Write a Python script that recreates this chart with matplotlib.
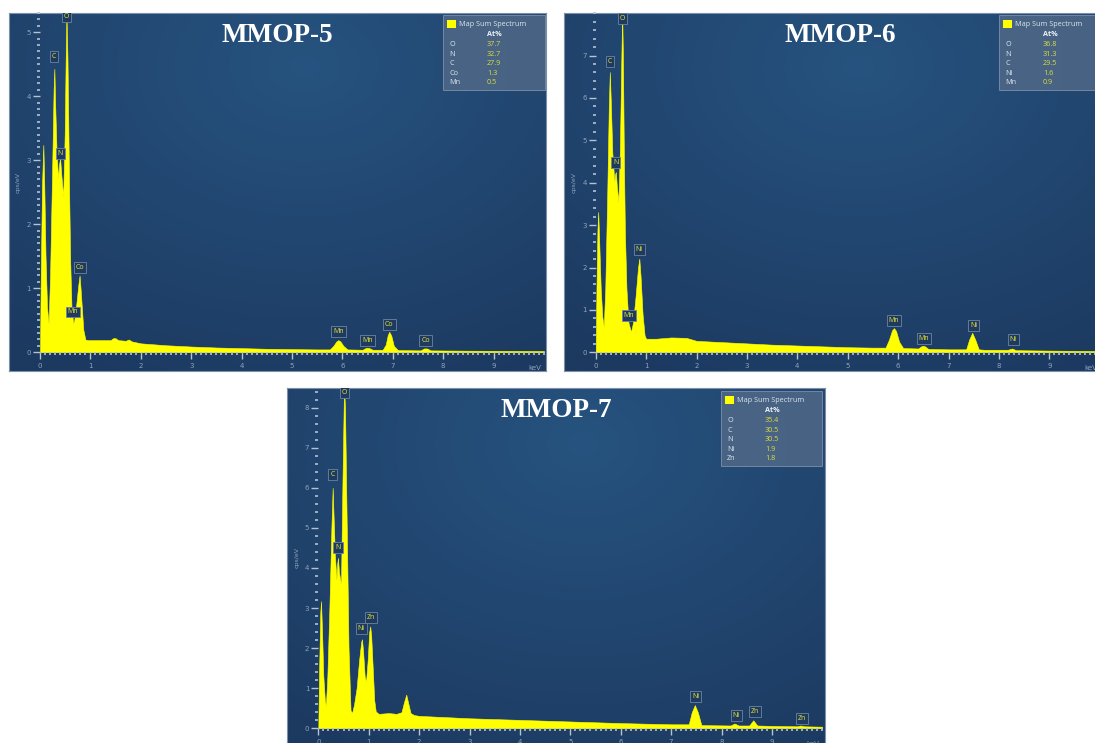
import numpy as np
import matplotlib
matplotlib.use("Agg")
import matplotlib.pyplot as plt
from matplotlib.ticker import MultipleLocator, FixedLocator
from matplotlib.patches import Rectangle

W, H = 1095, 743

titles = ["MMOP-5", "MMOP-6", "MMOP-7"]
x_ticks = [0, 1, 2, 3, 4, 5, 6, 7, 8, 9]

# ---------------- spectrum traces (keV, cps/eV) ----------------
p5_kev = [0.0, 0.015, 0.04, 0.066, 0.085, 0.11, 0.14, 0.17, 0.20, 0.24, 0.27, 0.285, 0.30, 0.33,
          0.36, 0.38, 0.40, 0.42, 0.46, 0.49, 0.51, 0.525, 0.545, 0.56, 0.58, 0.60, 0.625, 0.66,
          0.68, 0.72, 0.76, 0.785, 0.80, 0.83, 0.86, 0.90, 0.95, 1.2, 1.4, 1.45, 1.5, 1.55, 1.7,
          1.76, 1.82, 2.0, 2.5, 3.0, 3.5, 4.0, 4.5, 5.0, 5.5, 5.75, 5.82, 5.88, 5.92, 5.96, 6.02,
          6.1, 6.4, 6.47, 6.52, 6.6, 6.8, 6.86, 6.9, 6.93, 6.97, 7.02, 7.1, 7.55, 7.62, 7.68, 7.75,
          8.5, 10.0]
p5_cps = [0.0, 1.2, 2.6, 3.24, 2.6, 1.5, 0.7, 0.45, 1.2, 2.8, 4.1, 4.43, 3.9, 3.1,
          2.71, 2.95, 3.02, 2.8, 2.43, 3.4, 4.6, 5.3, 4.6, 3.7, 2.4, 1.4, 0.7, 0.45,
          0.5, 0.75, 1.05, 1.2, 1.05, 0.7, 0.35, 0.2, 0.19, 0.19, 0.19, 0.22, 0.22, 0.19, 0.18,
          0.2, 0.17, 0.14, 0.11, 0.09, 0.075, 0.065, 0.055, 0.05, 0.045, 0.045, 0.1, 0.17, 0.19, 0.17, 0.1,
          0.045, 0.04, 0.07, 0.07, 0.04, 0.04, 0.12, 0.27, 0.32, 0.26, 0.1, 0.035, 0.03, 0.06, 0.06, 0.03,
          0.025, 0.02]

p6_kev = [0.0, 0.015, 0.035, 0.05, 0.07, 0.10, 0.13, 0.16, 0.19, 0.23, 0.26, 0.28, 0.30, 0.33,
          0.37, 0.385, 0.40, 0.42, 0.45, 0.48, 0.51, 0.525, 0.54, 0.56, 0.58, 0.61, 0.65, 0.70,
          0.74, 0.79, 0.84, 0.865, 0.89, 0.93, 0.97, 1.0, 1.2, 1.5, 1.8, 2.0, 2.5, 3.0, 3.5, 4.0,
          4.5, 5.0, 5.5, 5.75, 5.82, 5.88, 5.92, 5.96, 6.02, 6.1, 6.4, 6.47, 6.52, 6.6, 7.0, 7.35,
          7.41, 7.47, 7.53, 7.6, 7.7, 8.18, 8.26, 8.34, 9.0, 10.0]
p6_cps = [0.0, 1.5, 2.9, 3.31, 2.6, 1.5, 0.85, 0.6, 1.5, 3.8, 5.8, 6.61, 5.9, 4.7,
          4.02, 4.2, 4.25, 3.9, 3.54, 4.8, 7.0, 8.0, 7.0, 4.5, 2.8, 1.5, 0.7, 0.48,
          0.7, 1.3, 2.0, 2.21, 1.8, 0.9, 0.4, 0.32, 0.32, 0.35, 0.34, 0.27, 0.24, 0.21, 0.18, 0.16,
          0.14, 0.12, 0.11, 0.11, 0.3, 0.52, 0.57, 0.5, 0.25, 0.1, 0.09, 0.15, 0.15, 0.08, 0.07, 0.07,
          0.3, 0.46, 0.3, 0.07, 0.06, 0.06, 0.09, 0.05, 0.04, 0.03]

p7_kev = [0.0, 0.015, 0.04, 0.054, 0.075, 0.10, 0.13, 0.15, 0.18, 0.22, 0.26, 0.285, 0.30, 0.33,
          0.36, 0.375, 0.39, 0.41, 0.45, 0.48, 0.51, 0.53, 0.56, 0.60, 0.64, 0.67, 0.71, 0.76,
          0.81, 0.85, 0.867, 0.89, 0.92, 0.946, 0.98, 1.01, 1.03, 1.05, 1.08, 1.11, 1.14, 1.2, 1.4,
          1.55, 1.65, 1.70, 1.745, 1.78, 1.83, 1.9, 2.0, 3.0, 4.0, 5.0, 6.0, 7.0, 7.35, 7.41, 7.47,
          7.53, 7.6, 8.18, 8.26, 8.34, 8.55, 8.63, 8.71, 9.0, 9.5, 9.57, 9.64, 10.0]
p7_cps = [0.0, 1.4, 2.9, 3.17, 2.4, 1.3, 0.7, 0.55, 1.3, 3.0, 5.0, 6.0, 5.4, 4.3,
          3.7, 4.1, 4.25, 3.9, 3.58, 6.2, 8.5, 8.0, 5.4, 2.0, 0.45, 0.38, 0.6, 1.0,
          1.7, 2.15, 2.22, 1.9, 1.3, 1.15, 1.7, 2.4, 2.54, 2.3, 1.5, 0.7, 0.42, 0.36, 0.38,
          0.36, 0.4, 0.65, 0.84, 0.65, 0.38, 0.33, 0.31, 0.25, 0.21, 0.17, 0.13, 0.1, 0.1, 0.4, 0.58,
          0.4, 0.08, 0.07, 0.12, 0.07, 0.07, 0.2, 0.07, 0.06, 0.05, 0.07, 0.05, 0.04]

# ---------------- peak labels ----------------
p5_lab = ["O", "C", "N", "Co", "Mn", "Mn", "Mn", "Co", "Co"]
p5_lab_x = [0.53, 0.28, 0.40, 0.79, 0.65, 5.92, 6.50, 6.93, 7.65]
p5_lab_y = [5.24, 4.62, 3.1, 1.33, 0.63, 0.32, 0.19, 0.43, 0.19]

p6_lab = ["O", "C", "N", "Ni", "Mn", "Mn", "Mn", "Ni", "Ni"]
p6_lab_x = [0.53, 0.28, 0.40, 0.865, 0.66, 5.92, 6.51, 7.50, 8.28]
p6_lab_y = [7.88, 6.86, 4.48, 2.43, 0.87, 0.76, 0.33, 0.64, 0.31]

p7_lab = ["O", "C", "N", "Ni", "Zn", "Ni", "Ni", "Zn", "Zn"]
p7_lab_x = [0.52, 0.28, 0.39, 0.85, 1.04, 7.49, 8.29, 8.66, 9.59]
p7_lab_y = [8.38, 6.32, 4.5, 2.48, 2.77, 0.79, 0.33, 0.41, 0.25]

# ---------------- legend tables (At%) ----------------
p5_elem = ["O", "N", "C", "Co", "Mn"]
p5_at = ["37.7", "32.7", "27.9", "1.3", "0.5"]
p6_elem = ["O", "N", "C", "Ni", "Mn"]
p6_at = ["36.8", "31.3", "29.5", "1.6", "0.9"]
p7_elem = ["O", "C", "N", "Ni", "Zn"]
p7_at = ["35.4", "30.5", "30.5", "1.9", "1.8"]

# ---------------- layout (pixels) ----------------
panels = [
    dict(kev=p5_kev, cps=p5_cps, lab=p5_lab, lx=p5_lab_x, ly=p5_lab_y, elem=p5_elem, at=p5_at,
         frame=(9, 13, 546, 371), axes=(40, 13, 544, 352.3), ymax=5.3, ymin_step=0.1,
         yticks=[0, 1, 2, 3, 4, 5], title=(277, 35), legend=(443, 15, 545, 90)),
    dict(kev=p6_kev, cps=p6_cps, lab=p6_lab, lx=p6_lab_x, ly=p6_lab_y, elem=p6_elem, at=p6_at,
         frame=(564, 13, 1101, 371), axes=(595.7, 13.1, 1099.7, 352.3), ymax=8.0, ymin_step=0.2,
         yticks=[0, 1, 2, 3, 4, 5, 6, 7], title=(840, 35), legend=(999, 15, 1101, 90)),
    dict(kev=p7_kev, cps=p7_cps, lab=p7_lab, lx=p7_lab_x, ly=p7_lab_y, elem=p7_elem, at=p7_at,
         frame=(287, 388, 825, 760), axes=(318.3, 387.5, 822.3, 728.3), ymax=8.5, ymin_step=0.2,
         yticks=[0, 1, 2, 3, 4, 5, 6, 7, 8], title=(556, 411), legend=(721, 391, 822, 466)),
]


def rect(x0, y0, x1, y1):
    return [x0 / W, 1 - y1 / H, (x1 - x0) / W, (y1 - y0) / H]


def fx(x):
    return x / W


def fy(y):
    return 1 - y / H


fig = plt.figure(figsize=(W / 100, H / 100), dpi=100)
fig.patch.set_facecolor("white")

# gradient background image
gy, gx = np.mgrid[0:1:240j, 0:1:360j]
dist = np.sqrt(((gx - 0.55) / 1.0) ** 2 + ((gy - 0.15) / 1.1) ** 2)
t = np.clip(dist / 0.9, 0, 1)
c_in = np.array([38, 83, 127]) / 255.0
c_out = np.array([28, 57, 96]) / 255.0
grad = c_in[None, None, :] * (1 - t[..., None]) + c_out[None, None, :] * t[..., None]

tick_col = "#b4c2d4"
lab_col = "#8fa3bd"

for i, p in enumerate(panels):
    bg = fig.add_axes(rect(*p["frame"]), zorder=0)
    bg.imshow(grad, aspect="auto", extent=[0, 1, 0, 1], origin="upper")
    bg.set_xticks([])
    bg.set_yticks([])
    for s in bg.spines.values():
        s.set_color("#7d90aa")
        s.set_linewidth(0.8)

    ax = fig.add_axes(rect(*p["axes"]), zorder=1)
    ax.set_facecolor("none")
    ax.fill_between(p["kev"], p["cps"], 0, color="#ffff00", lw=0.4, edgecolor="#ffff00")
    ax.set_xlim(0, 10)
    ax.set_ylim(0, p["ymax"])
    for s in ax.spines.values():
        s.set_visible(False)
    ax.xaxis.set_major_locator(FixedLocator(x_ticks))
    ax.xaxis.set_minor_locator(MultipleLocator(0.1))
    ax.yaxis.set_major_locator(FixedLocator(p["yticks"]))
    ax.yaxis.set_minor_locator(MultipleLocator(p["ymin_step"]))
    ax.tick_params(axis="both", which="major", color=tick_col, labelcolor=lab_col,
                   labelsize=5, width=1.0, length=5, pad=1.5, direction="out")
    ax.tick_params(axis="both", which="minor", color=tick_col, width=1.2, length=2.2,
                   direction="out")
    ax.tick_params(axis="x", which="major", pad=3)
    ax.set_ylabel("cps/eV", color=lab_col, fontsize=4.5, labelpad=4)
    ax.text(9.82, -0.038, "keV", transform=ax.get_xaxis_transform(), color=lab_col,
            fontsize=5, ha="center", va="top")

    # peak labels
    for name, x, y in zip(p["lab"], p["lx"], p["ly"]):
        ax.text(x, y, name, color="#e6e63a", fontsize=5, ha="center", va="center",
                fontfamily="Open Sans", clip_on=True,
                bbox=dict(boxstyle="square,pad=0.28", fc="#1e3a5f", ec="#6d84a2", lw=0.6))

    # title
    tx, ty = p["title"]
    fig.text(fx(tx), fy(ty), titles[i], color="white", fontsize=19.5, fontweight="bold",
             fontfamily="Liberation Serif", ha="center", va="center", zorder=5)

    # legend box
    bx0, by0, bx1, by1 = p["legend"]
    fig.add_artist(Rectangle((fx(bx0), fy(by1)), (bx1 - bx0) / W, (by1 - by0) / H,
                             transform=fig.transFigure, fc="#4f6887", ec="#7d90aa", lw=0.7,
                             alpha=0.85, zorder=4))
    fig.add_artist(Rectangle((fx(bx0 + 4), fy(by0 + 13)), 9 / W, 8 / H,
                             transform=fig.transFigure, fc="#ffff00", ec="none", zorder=5))
    fig.text(fx(bx0 + 16), fy(by0 + 9), "Map Sum Spectrum", color="#dfe6ee", fontsize=5.2,
             fontfamily="Open Sans", ha="left", va="center", zorder=6)
    fig.text(fx(bx0 + 44), fy(by0 + 20), "At%", color="#eef2f6", fontsize=5.2,
             fontweight="bold", fontfamily="Open Sans", ha="left", va="center", zorder=6)
    for k, (e, v) in enumerate(zip(p["elem"], p["at"])):
        yy = by0 + 29.5 + k * 9.6
        fig.text(fx(bx0 + 6), fy(yy), e, color="#dfe6ee", fontsize=5.2,
                 fontfamily="Open Sans", ha="left", va="center", zorder=6)
        fig.text(fx(bx0 + 44), fy(yy), v, color="#dede40", fontsize=5.2,
                 fontfamily="Open Sans", ha="left", va="center", zorder=6)

fig.savefig("out.png", dpi=100, facecolor="white")
